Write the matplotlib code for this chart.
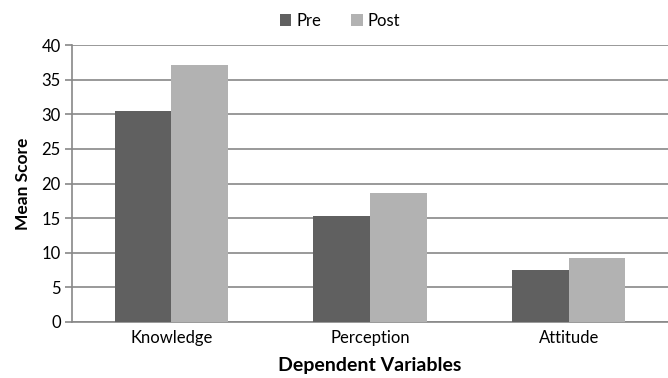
import numpy as np
import matplotlib.pyplot as plt

categories = ['Knowledge', 'Perception', 'Attitude']
pre = [30.4, 15.3, 7.5]
post = [37.1, 18.7, 9.3]
yticks = [0, 5, 10, 15, 20, 25, 30, 35, 40]

plt.rcParams['font.family'] = ['Lato', 'DejaVu Sans']

fig = plt.figure(figsize=(6.68, 3.78), dpi=100)
ax = fig.add_axes([72 / 668, 1 - 322 / 378, 596 / 668, 277 / 378])

x = np.arange(len(categories))
w = 1 / 3.5
ax.bar(x - w / 2, pre, w, color='#606060', label='Pre', zorder=3)
ax.bar(x + w / 2, post, w, color='#b2b2b2', label='Post', zorder=3)

ax.set_xlim(-0.5, 2.5)
ax.set_ylim(0, 40)
ax.set_yticks(yticks)
ax.set_xticks(x)
ax.set_xticklabels(categories, fontsize=12)
ax.tick_params(axis='y', labelsize=12, length=5, color='#888888', width=1.2, pad=3)
ax.tick_params(axis='x', length=0, pad=6)
ax.grid(axis='y', color='#888888', linewidth=1.2, zorder=0)

for s in ['top', 'right']:
    ax.spines[s].set_visible(False)
for s in ['left', 'bottom']:
    ax.spines[s].set_color('#888888')
    ax.spines[s].set_linewidth(1.2)

ax.set_ylabel('Mean Score', fontsize=12.5, fontweight='bold', labelpad=8)
ax.set_xlabel('Dependent Variables', fontsize=14, fontweight='bold', labelpad=8)

ax.legend(loc='upper center', bbox_to_anchor=(0.5 - 30 / 596, 1.17), ncol=2, frameon=False,
          fontsize=12, handlelength=0.7, handleheight=0.7, columnspacing=1.8, handletextpad=0.3)

fig.savefig('out.png', dpi=100)
